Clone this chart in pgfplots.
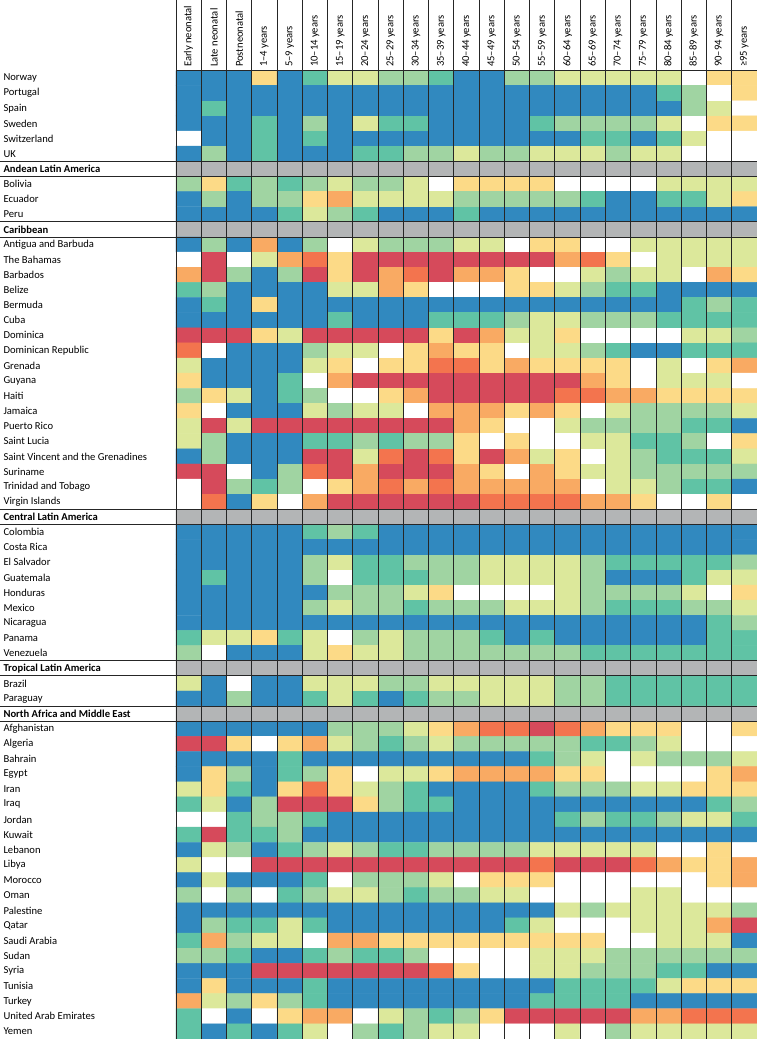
\documentclass[border=0pt]{standalone}
\usepackage{fontspec}
\setmainfont{Carlito}
\usepackage{pgfplots}
\pgfplotsset{compat=1.18}
\usepackage{pgfplotstable}

% codes: 0 blue, 1 teal, 2 light green, 3 yellow-green, 4 pale yellow,
% 5 orange, 6 dark orange, 7 red, 8 white, 9 grey (region header)
% one line per row (top to bottom), 23 age groups per line
\pgfplotstableread[header=false,row sep=\\]{
0\\0\\0\\4\\0\\1\\3\\3\\2\\2\\1\\0\\0\\2\\2\\3\\3\\3\\3\\3\\8\\4\\4\\
0\\0\\0\\0\\0\\0\\0\\0\\0\\0\\0\\0\\0\\0\\0\\0\\0\\0\\0\\1\\2\\8\\4\\
0\\1\\0\\0\\0\\0\\0\\0\\0\\0\\0\\0\\0\\0\\0\\0\\0\\0\\0\\0\\2\\3\\8\\
0\\0\\0\\1\\0\\2\\0\\3\\1\\1\\0\\0\\0\\0\\1\\2\\2\\2\\2\\3\\8\\4\\4\\
8\\0\\0\\1\\0\\1\\0\\0\\0\\0\\0\\0\\0\\0\\0\\0\\1\\1\\0\\1\\3\\8\\8\\
0\\2\\0\\1\\0\\0\\0\\1\\1\\2\\2\\3\\2\\2\\3\\3\\3\\2\\3\\3\\8\\8\\8\\
9\\9\\9\\9\\9\\9\\9\\9\\9\\9\\9\\9\\9\\9\\9\\9\\9\\9\\9\\9\\9\\9\\9\\
2\\4\\1\\2\\1\\2\\3\\2\\2\\3\\8\\4\\4\\4\\4\\8\\8\\8\\8\\3\\3\\3\\3\\
0\\2\\0\\2\\2\\4\\5\\3\\3\\3\\3\\2\\2\\2\\2\\2\\1\\0\\0\\1\\1\\3\\4\\
0\\0\\0\\0\\1\\3\\2\\1\\0\\0\\0\\1\\0\\0\\0\\0\\0\\0\\0\\0\\0\\0\\0\\
9\\9\\9\\9\\9\\9\\9\\9\\9\\9\\9\\9\\9\\9\\9\\9\\9\\9\\9\\9\\9\\9\\9\\
0\\2\\0\\5\\0\\2\\8\\3\\2\\2\\2\\3\\3\\8\\4\\4\\8\\8\\3\\3\\3\\3\\3\\
8\\7\\8\\3\\5\\6\\4\\7\\7\\7\\7\\7\\7\\7\\7\\5\\6\\4\\8\\3\\3\\3\\3\\
5\\7\\2\\0\\2\\7\\4\\7\\5\\6\\7\\5\\5\\4\\8\\8\\3\\2\\3\\3\\8\\5\\4\\
1\\2\\0\\0\\0\\0\\3\\3\\5\\4\\8\\8\\8\\4\\4\\3\\2\\1\\1\\0\\0\\0\\0\\
0\\1\\0\\4\\0\\0\\0\\0\\0\\0\\0\\0\\0\\0\\0\\0\\0\\0\\0\\0\\1\\2\\1\\
0\\0\\0\\0\\0\\0\\1\\0\\0\\0\\1\\1\\1\\2\\3\\3\\2\\2\\2\\1\\1\\1\\1\\
7\\7\\7\\4\\3\\7\\7\\7\\7\\7\\4\\7\\5\\3\\3\\4\\8\\8\\8\\8\\3\\3\\2\\
6\\8\\0\\0\\0\\2\\3\\3\\8\\4\\5\\4\\4\\8\\3\\3\\2\\1\\0\\0\\1\\1\\1\\
3\\0\\0\\0\\0\\3\\4\\8\\4\\4\\6\\6\\4\\5\\4\\4\\4\\4\\8\\3\\8\\4\\5\\
4\\0\\0\\0\\1\\8\\5\\7\\7\\7\\7\\7\\7\\7\\7\\7\\5\\4\\8\\3\\3\\3\\8\\
2\\4\\3\\0\\1\\2\\8\\8\\4\\5\\7\\7\\7\\7\\7\\6\\6\\5\\5\\4\\4\\4\\4\\
4\\8\\0\\0\\0\\3\\2\\3\\3\\8\\5\\5\\5\\4\\5\\4\\8\\3\\2\\2\\2\\2\\3\\
3\\7\\3\\7\\7\\7\\7\\7\\7\\7\\7\\5\\4\\8\\8\\3\\2\\2\\2\\2\\1\\1\\0\\
3\\2\\0\\0\\0\\1\\1\\2\\1\\2\\2\\4\\8\\4\\8\\8\\3\\3\\1\\1\\2\\8\\4\\
0\\2\\0\\0\\0\\7\\7\\3\\6\\7\\6\\4\\7\\5\\3\\4\\8\\3\\2\\1\\1\\1\\3\\
7\\7\\8\\0\\2\\6\\7\\5\\7\\7\\7\\5\\4\\8\\5\\4\\3\\3\\2\\2\\2\\2\\2\\
8\\7\\2\\1\\2\\8\\4\\5\\6\\5\\6\\5\\5\\5\\5\\5\\8\\3\\3\\2\\1\\1\\0\\
8\\6\\0\\4\\8\\5\\7\\7\\7\\7\\7\\7\\6\\6\\6\\6\\5\\5\\4\\8\\8\\4\\8\\
9\\9\\9\\9\\9\\9\\9\\9\\9\\9\\9\\9\\9\\9\\9\\9\\9\\9\\9\\9\\9\\9\\9\\
0\\0\\0\\0\\0\\1\\2\\1\\0\\0\\0\\0\\0\\0\\0\\0\\0\\0\\0\\0\\0\\0\\0\\
0\\0\\0\\0\\0\\0\\0\\0\\0\\0\\0\\0\\0\\0\\0\\0\\0\\0\\0\\0\\0\\0\\0\\
0\\0\\0\\0\\0\\2\\3\\1\\1\\2\\2\\2\\3\\3\\3\\3\\2\\1\\1\\1\\1\\1\\2\\
0\\1\\0\\0\\0\\2\\8\\1\\1\\1\\2\\2\\3\\3\\3\\3\\2\\0\\0\\0\\1\\3\\3\\
0\\0\\0\\0\\0\\0\\2\\2\\2\\3\\4\\8\\8\\8\\8\\3\\2\\2\\2\\2\\3\\8\\4\\
0\\0\\0\\0\\0\\2\\3\\2\\2\\1\\2\\2\\2\\3\\3\\3\\2\\1\\1\\1\\2\\2\\3\\
0\\0\\0\\0\\0\\0\\0\\0\\0\\0\\0\\0\\0\\0\\0\\0\\0\\0\\0\\0\\0\\1\\2\\
1\\3\\3\\4\\1\\3\\8\\2\\3\\2\\2\\2\\1\\0\\1\\0\\0\\0\\0\\0\\0\\1\\1\\
2\\8\\0\\0\\0\\3\\4\\3\\3\\2\\2\\2\\2\\2\\2\\2\\1\\1\\1\\1\\1\\1\\1\\
9\\9\\9\\9\\9\\9\\9\\9\\9\\9\\9\\9\\9\\9\\9\\9\\9\\9\\9\\9\\9\\9\\9\\
3\\0\\8\\0\\0\\3\\3\\3\\2\\2\\3\\3\\3\\3\\3\\2\\2\\1\\1\\1\\1\\1\\1\\
0\\0\\2\\0\\0\\1\\3\\1\\0\\1\\2\\2\\3\\3\\3\\2\\2\\1\\1\\1\\1\\1\\1\\
9\\9\\9\\9\\9\\9\\9\\9\\9\\9\\9\\9\\9\\9\\9\\9\\9\\9\\9\\9\\9\\9\\9\\
0\\0\\0\\0\\0\\0\\2\\2\\2\\3\\4\\5\\6\\6\\7\\6\\5\\4\\4\\4\\8\\8\\4\\
7\\7\\4\\8\\4\\5\\3\\2\\1\\2\\3\\2\\2\\2\\2\\2\\1\\1\\2\\3\\8\\8\\8\\
0\\0\\0\\0\\1\\0\\0\\0\\0\\0\\0\\0\\0\\0\\1\\2\\3\\8\\3\\2\\2\\2\\3\\
0\\4\\2\\0\\1\\2\\4\\8\\3\\3\\4\\5\\5\\5\\5\\4\\4\\8\\8\\8\\8\\4\\5\\
3\\4\\1\\0\\4\\6\\4\\3\\2\\1\\0\\0\\0\\0\\1\\2\\2\\2\\3\\3\\4\\4\\4\\
1\\3\\0\\2\\7\\7\\7\\4\\2\\1\\1\\0\\0\\0\\0\\0\\0\\0\\0\\0\\0\\1\\2\\
8\\8\\1\\2\\2\\1\\0\\0\\0\\0\\0\\0\\0\\0\\0\\1\\2\\1\\1\\2\\3\\3\\1\\
1\\7\\1\\1\\2\\0\\0\\0\\0\\0\\0\\0\\0\\0\\0\\0\\0\\0\\0\\0\\0\\0\\0\\
0\\3\\2\\0\\1\\2\\3\\2\\1\\1\\2\\2\\2\\2\\3\\3\\3\\3\\3\\8\\8\\4\\8\\
3\\8\\8\\7\\7\\7\\7\\7\\7\\7\\7\\7\\7\\7\\6\\7\\7\\7\\6\\5\\4\\4\\5\\
0\\3\\0\\0\\0\\1\\8\\2\\2\\2\\3\\8\\4\\4\\4\\8\\8\\8\\8\\8\\8\\4\\5\\
2\\8\\2\\8\\1\\2\\3\\3\\2\\1\\2\\2\\3\\3\\8\\8\\8\\8\\3\\3\\8\\8\\8\\
0\\0\\0\\0\\0\\0\\0\\0\\0\\0\\0\\0\\0\\0\\0\\3\\2\\3\\3\\3\\3\\3\\2\\
0\\2\\1\\1\\3\\1\\0\\0\\0\\0\\0\\0\\0\\1\\3\\8\\8\\8\\3\\3\\3\\5\\7\\
1\\5\\2\\3\\3\\8\\5\\5\\4\\4\\4\\4\\4\\4\\4\\4\\4\\8\\8\\3\\3\\3\\0\\
2\\2\\1\\0\\0\\1\\2\\1\\1\\2\\8\\8\\8\\8\\3\\3\\3\\2\\2\\2\\2\\2\\2\\
0\\0\\0\\7\\7\\7\\7\\7\\7\\7\\6\\4\\8\\8\\3\\3\\2\\2\\2\\1\\1\\0\\0\\
0\\4\\0\\0\\0\\1\\0\\0\\0\\0\\0\\0\\0\\0\\0\\1\\1\\1\\1\\3\\4\\4\\4\\
5\\3\\2\\4\\2\\1\\0\\0\\0\\0\\0\\0\\0\\0\\1\\1\\1\\1\\0\\0\\0\\0\\0\\
1\\8\\0\\8\\4\\5\\5\\8\\3\\2\\1\\2\\4\\7\\7\\7\\7\\7\\5\\5\\6\\6\\6\\
1\\0\\1\\0\\1\\3\\8\\2\\1\\2\\3\\3\\8\\8\\8\\3\\8\\2\\3\\3\\3\\3\\3\\
}\cells

\begin{document}
\begin{tikzpicture}
\useasboundingbox (-176pt,0pt) rectangle (581pt,1039pt);
\begin{axis}[
  at={(0pt,0pt)}, anchor=south west,
  scale only axis, width=581pt, height=968.5pt,
  xmin=-0.5, xmax=22.5, ymin=-0.5, ymax=63.5,
  y dir=reverse,
  axis line style={draw=none},
  tick style={draw=none},
  major tick length=0pt,
  xtick={0,...,22}, ytick={0,...,63},
  xticklabel pos=upper,
  xticklabels={Early neonatal, Late neonatal, Postneonatal, 1--4 years, 5--9 years, 10--14 years, 15--19 years, 20--24 years, 25--29 years, 30--34 years, 35--39 years, 40--44 years, 45--49 years, 50--54 years, 55--59 years, 60--64 years, 65--69 years, 70--74 years, 75--79 years, 80--84 years, 85--89 years, 90--94 years, ≥95 years},
  yticklabels={Norway, Portugal, Spain, Sweden, Switzerland, UK, \textbf{Andean Latin America}, Bolivia, Ecuador, Peru, \textbf{Caribbean}, Antigua and Barbuda, The Bahamas, Barbados, Belize, Bermuda, Cuba, Dominica, Dominican Republic, Grenada, Guyana, Haiti, Jamaica, Puerto Rico, Saint Lucia, Saint Vincent and the Grenadines, Suriname, Trinidad and Tobago, Virgin Islands, \textbf{Central Latin America}, Colombia, Costa Rica, El Salvador, Guatemala, Honduras, Mexico, Nicaragua, Panama, Venezuela, \textbf{Tropical Latin America}, Brazil, Paraguay, \textbf{North Africa and Middle East}, Afghanistan, Algeria, Bahrain, Egypt, Iran, Iraq, Jordan, Kuwait, Lebanon, Libya, Morocco, Oman, Palestine, Qatar, Saudi Arabia, Sudan, Syria, Tunisia, Turkey, United Arab Emirates, Yemen},
  xticklabel style={rotate=90, anchor=west, font=\fontsize{10.6}{12}\selectfont},
  yticklabel style={anchor=west, xshift=-176pt, font=\fontsize{10.6}{12}\selectfont},
  colormap={spec}{rgb255=(49,137,191) rgb255=(96,195,165) rgb255=(160,212,162) rgb255=(220,232,155) rgb255=(252,218,135) rgb255=(249,170,99) rgb255=(243,116,78) rgb255=(214,74,91) rgb255=(255,255,255) rgb255=(179,181,182)},
  colormap access=direct,
  clip=false,
]
\addplot[matrix plot, mesh/cols=23, point meta=explicit]
  table[x index=0, y index=0, meta index=0,
        x expr={\coordindex-23*floor((\coordindex+0.5)/23)},
        y expr={floor((\coordindex+0.5)/23)}]{\cells};
\pgfplotsinvokeforeach{-0.5,0.5,1.5,2.5,3.5,4.5,5.5,6.5,7.5,8.5,9.5,10.5,11.5,12.5,13.5,14.5,15.5,16.5,17.5,18.5,19.5,20.5,21.5,22.5}{
  \draw[black!85, line width=0.9pt] (axis cs:#1,63.5) -- (axis cs:#1,-5.4);
}
\pgfplotsinvokeforeach{5.5,6.5,9.5,10.5,28.5,29.5,38.5,39.5,41.5,42.5}{
  \draw[black!85, line width=0.9pt] (axis cs:-7.6,#1) -- (axis cs:22.5,#1);
}
\draw[black!85, line width=0.9pt] (axis cs:-0.5,-0.5) -- (axis cs:22.5,-0.5);
\draw[black!85, line width=0.9pt] (axis cs:-0.5,63.5) -- (axis cs:22.5,63.5);
\end{axis}
\end{tikzpicture}
\end{document}
